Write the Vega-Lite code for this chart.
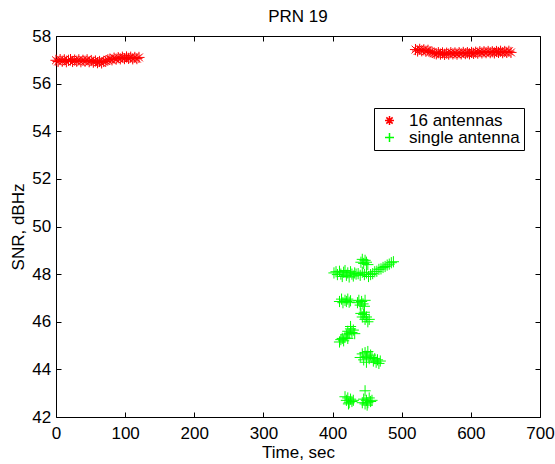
{
  "$schema": "https://vega.github.io/schema/vega-lite/v6.json",
  "width": 484,
  "height": 381,
  "autosize": {"type": "none"},
  "padding": {"left": 56, "top": 36, "right": 15, "bottom": 47},
  "background": "white",
  "title": {"text": "PRN 19", "fontSize": 17, "fontWeight": "normal", "font": "Liberation Sans", "color": "black", "offset": 1},
  "config": {
    "view": {"stroke": "black", "strokeWidth": 1},
    "axis": {"grid": false, "domain": false, "tickColor": "black", "tickSize": -5, "labelFlush": false, "labelFont": "Liberation Sans", "labelFontSize": 17, "labelColor": "black", "titleFont": "Liberation Sans", "titleFontSize": 17, "titleFontWeight": "normal", "titleColor": "black"},
    "legend": {"labelFont": "Liberation Sans", "labelFontSize": 17, "labelColor": "black"}
  },
  "data": {"values": [
    {"t":0,"snr":56.98,"series":"16 antennas"},{"t":3,"snr":56.93,"series":"16 antennas"},{"t":6,"snr":57.01,"series":"16 antennas"},{"t":9,"snr":56.94,"series":"16 antennas"},{"t":12,"snr":57.0,"series":"16 antennas"},{"t":15,"snr":56.92,"series":"16 antennas"},{"t":18,"snr":56.98,"series":"16 antennas"},{"t":21,"snr":57.01,"series":"16 antennas"},{"t":24,"snr":56.93,"series":"16 antennas"},{"t":27,"snr":56.99,"series":"16 antennas"},{"t":30,"snr":56.94,"series":"16 antennas"},{"t":33,"snr":57.0,"series":"16 antennas"},{"t":36,"snr":56.92,"series":"16 antennas"},{"t":39,"snr":56.98,"series":"16 antennas"},{"t":42,"snr":56.94,"series":"16 antennas"},{"t":45,"snr":57.0,"series":"16 antennas"},{"t":48,"snr":56.92,"series":"16 antennas"},{"t":51,"snr":56.97,"series":"16 antennas"},{"t":54,"snr":56.9,"series":"16 antennas"},{"t":57,"snr":56.95,"series":"16 antennas"},{"t":60,"snr":56.88,"series":"16 antennas"},{"t":63,"snr":56.93,"series":"16 antennas"},{"t":66,"snr":56.87,"series":"16 antennas"},{"t":69,"snr":56.93,"series":"16 antennas"},{"t":72,"snr":56.95,"series":"16 antennas"},{"t":75,"snr":57.0,"series":"16 antennas"},{"t":78,"snr":57.03,"series":"16 antennas"},{"t":81,"snr":57.0,"series":"16 antennas"},{"t":84,"snr":57.07,"series":"16 antennas"},{"t":87,"snr":57.03,"series":"16 antennas"},{"t":90,"snr":57.09,"series":"16 antennas"},{"t":93,"snr":57.04,"series":"16 antennas"},{"t":96,"snr":57.11,"series":"16 antennas"},{"t":99,"snr":57.05,"series":"16 antennas"},{"t":102,"snr":57.12,"series":"16 antennas"},{"t":105,"snr":57.06,"series":"16 antennas"},{"t":108,"snr":57.11,"series":"16 antennas"},{"t":111,"snr":57.04,"series":"16 antennas"},{"t":114,"snr":57.1,"series":"16 antennas"},{"t":117,"snr":57.05,"series":"16 antennas"},{"t":120,"snr":57.1,"series":"16 antennas"},
    {"t":520,"snr":57.43,"series":"16 antennas"},{"t":523,"snr":57.37,"series":"16 antennas"},{"t":526,"snr":57.44,"series":"16 antennas"},{"t":529,"snr":57.38,"series":"16 antennas"},{"t":532,"snr":57.42,"series":"16 antennas"},{"t":535,"snr":57.36,"series":"16 antennas"},{"t":538,"snr":57.4,"series":"16 antennas"},{"t":541,"snr":57.34,"series":"16 antennas"},{"t":544,"snr":57.31,"series":"16 antennas"},{"t":547,"snr":57.28,"series":"16 antennas"},{"t":550,"snr":57.25,"series":"16 antennas"},{"t":553,"snr":57.3,"series":"16 antennas"},{"t":556,"snr":57.24,"series":"16 antennas"},{"t":559,"snr":57.29,"series":"16 antennas"},{"t":562,"snr":57.23,"series":"16 antennas"},{"t":565,"snr":57.28,"series":"16 antennas"},{"t":568,"snr":57.24,"series":"16 antennas"},{"t":571,"snr":57.3,"series":"16 antennas"},{"t":574,"snr":57.25,"series":"16 antennas"},{"t":577,"snr":57.29,"series":"16 antennas"},{"t":580,"snr":57.24,"series":"16 antennas"},{"t":583,"snr":57.3,"series":"16 antennas"},{"t":586,"snr":57.25,"series":"16 antennas"},{"t":589,"snr":57.31,"series":"16 antennas"},{"t":592,"snr":57.26,"series":"16 antennas"},{"t":595,"snr":57.3,"series":"16 antennas"},{"t":598,"snr":57.25,"series":"16 antennas"},{"t":601,"snr":57.31,"series":"16 antennas"},{"t":604,"snr":57.27,"series":"16 antennas"},{"t":607,"snr":57.32,"series":"16 antennas"},{"t":610,"snr":57.28,"series":"16 antennas"},{"t":613,"snr":57.34,"series":"16 antennas"},{"t":616,"snr":57.29,"series":"16 antennas"},{"t":619,"snr":57.34,"series":"16 antennas"},{"t":622,"snr":57.3,"series":"16 antennas"},{"t":625,"snr":57.35,"series":"16 antennas"},{"t":628,"snr":57.3,"series":"16 antennas"},{"t":631,"snr":57.34,"series":"16 antennas"},{"t":634,"snr":57.29,"series":"16 antennas"},{"t":637,"snr":57.35,"series":"16 antennas"},{"t":640,"snr":57.31,"series":"16 antennas"},{"t":643,"snr":57.36,"series":"16 antennas"},{"t":646,"snr":57.3,"series":"16 antennas"},{"t":649,"snr":57.35,"series":"16 antennas"},{"t":652,"snr":57.31,"series":"16 antennas"},{"t":655,"snr":57.36,"series":"16 antennas"},{"t":658,"snr":57.31,"series":"16 antennas"},
    {"t":402,"snr":48.05,"series":"single antenna"},{"t":405,"snr":48.1,"series":"single antenna"},{"t":407,"snr":47.98,"series":"single antenna"},{"t":410,"snr":48.12,"series":"single antenna"},{"t":412,"snr":48.0,"series":"single antenna"},{"t":414,"snr":47.9,"series":"single antenna"},{"t":416,"snr":48.08,"series":"single antenna"},{"t":418,"snr":48.15,"series":"single antenna"},{"t":420,"snr":47.95,"series":"single antenna"},{"t":422,"snr":48.05,"series":"single antenna"},{"t":424,"snr":47.88,"series":"single antenna"},{"t":426,"snr":48.1,"series":"single antenna"},{"t":428,"snr":48.0,"series":"single antenna"},{"t":430,"snr":47.92,"series":"single antenna"},{"t":432,"snr":48.05,"series":"single antenna"},{"t":434,"snr":48.0,"series":"single antenna"},
    {"t":437,"snr":48.02,"series":"single antenna"},{"t":440,"snr":47.95,"series":"single antenna"},{"t":443,"snr":48.08,"series":"single antenna"},{"t":446,"snr":47.98,"series":"single antenna"},{"t":449,"snr":48.05,"series":"single antenna"},{"t":452,"snr":47.9,"series":"single antenna"},
    {"t":441,"snr":48.5,"series":"single antenna"},{"t":443,"snr":48.62,"series":"single antenna"},{"t":445,"snr":48.45,"series":"single antenna"},{"t":447,"snr":48.58,"series":"single antenna"},{"t":449,"snr":48.5,"series":"single antenna"},{"t":451,"snr":48.4,"series":"single antenna"},
    {"t":455,"snr":47.98,"series":"single antenna"},{"t":458,"snr":48.02,"series":"single antenna"},{"t":461,"snr":48.1,"series":"single antenna"},{"t":464,"snr":48.12,"series":"single antenna"},{"t":467,"snr":48.2,"series":"single antenna"},{"t":470,"snr":48.22,"series":"single antenna"},{"t":473,"snr":48.28,"series":"single antenna"},{"t":476,"snr":48.32,"series":"single antenna"},{"t":479,"snr":48.38,"series":"single antenna"},{"t":482,"snr":48.42,"series":"single antenna"},{"t":485,"snr":48.48,"series":"single antenna"},{"t":488,"snr":48.52,"series":"single antenna"},
    {"t":410,"snr":46.85,"series":"single antenna"},{"t":413,"snr":46.95,"series":"single antenna"},{"t":415,"snr":46.8,"series":"single antenna"},{"t":418,"snr":46.9,"series":"single antenna"},{"t":420,"snr":46.85,"series":"single antenna"},{"t":422,"snr":46.95,"series":"single antenna"},{"t":424,"snr":46.82,"series":"single antenna"},{"t":426,"snr":46.88,"series":"single antenna"},
    {"t":436,"snr":46.8,"series":"single antenna"},{"t":438,"snr":46.9,"series":"single antenna"},{"t":440,"snr":46.7,"series":"single antenna"},{"t":442,"snr":46.85,"series":"single antenna"},{"t":444,"snr":46.75,"series":"single antenna"},{"t":446,"snr":46.65,"series":"single antenna"},{"t":447,"snr":46.9,"series":"single antenna"},
    {"t":441,"snr":46.35,"series":"single antenna"},{"t":443,"snr":46.2,"series":"single antenna"},{"t":445,"snr":46.3,"series":"single antenna"},{"t":447,"snr":46.1,"series":"single antenna"},{"t":449,"snr":46.2,"series":"single antenna"},{"t":451,"snr":46.0,"series":"single antenna"},{"t":453,"snr":46.1,"series":"single antenna"},{"t":446,"snr":46.4,"series":"single antenna"},
    {"t":410,"snr":45.15,"series":"single antenna"},{"t":412,"snr":45.25,"series":"single antenna"},{"t":414,"snr":45.3,"series":"single antenna"},{"t":416,"snr":45.2,"series":"single antenna"},{"t":418,"snr":45.35,"series":"single antenna"},{"t":420,"snr":45.45,"series":"single antenna"},{"t":422,"snr":45.6,"series":"single antenna"},{"t":424,"snr":45.5,"series":"single antenna"},{"t":426,"snr":45.7,"series":"single antenna"},{"t":428,"snr":45.55,"series":"single antenna"},{"t":430,"snr":45.65,"series":"single antenna"},{"t":432,"snr":45.5,"series":"single antenna"},{"t":426,"snr":45.8,"series":"single antenna"},{"t":422,"snr":45.3,"series":"single antenna"},
    {"t":440,"snr":44.5,"series":"single antenna"},{"t":443,"snr":44.65,"series":"single antenna"},{"t":445,"snr":44.4,"series":"single antenna"},{"t":447,"snr":44.7,"series":"single antenna"},{"t":449,"snr":44.55,"series":"single antenna"},{"t":451,"snr":44.75,"series":"single antenna"},{"t":453,"snr":44.45,"series":"single antenna"},{"t":455,"snr":44.6,"series":"single antenna"},{"t":457,"snr":44.5,"series":"single antenna"},{"t":459,"snr":44.35,"series":"single antenna"},{"t":461,"snr":44.45,"series":"single antenna"},{"t":463,"snr":44.3,"series":"single antenna"},{"t":465,"snr":44.4,"series":"single antenna"},{"t":467,"snr":44.25,"series":"single antenna"},{"t":469,"snr":44.35,"series":"single antenna"},{"t":449,"snr":44.3,"series":"single antenna"},
    {"t":418,"snr":42.85,"series":"single antenna"},{"t":420,"snr":42.7,"series":"single antenna"},{"t":422,"snr":42.8,"series":"single antenna"},{"t":424,"snr":42.6,"series":"single antenna"},{"t":426,"snr":42.75,"series":"single antenna"},{"t":428,"snr":42.65,"series":"single antenna"},{"t":430,"snr":42.7,"series":"single antenna"},{"t":423,"snr":42.55,"series":"single antenna"},
    {"t":443,"snr":42.6,"series":"single antenna"},{"t":445,"snr":42.75,"series":"single antenna"},{"t":447,"snr":42.55,"series":"single antenna"},{"t":449,"snr":42.7,"series":"single antenna"},{"t":451,"snr":42.6,"series":"single antenna"},{"t":453,"snr":42.8,"series":"single antenna"},{"t":455,"snr":42.65,"series":"single antenna"},{"t":457,"snr":42.7,"series":"single antenna"},{"t":447,"snr":43.1,"series":"single antenna"},{"t":450,"snr":42.5,"series":"single antenna"}
  ]},
  "layer": [
    {
      "mark": {"type": "point", "filled": false, "strokeWidth": 1, "size": 125, "opacity": 1},
      "encoding": {
        "x": {"field": "t", "type": "quantitative", "scale": {"domain": [0, 700], "nice": false, "zero": false},
              "axis": {"orient": "bottom", "values": [0,100,200,300,400,500,600,700], "labelPadding": 13.5, "title": "Time, sec", "titlePadding": 3}},
        "y": {"field": "snr", "type": "quantitative", "scale": {"domain": [42, 58], "nice": false, "zero": false},
              "axis": {"orient": "left", "values": [42,44,46,48,50,52,54,56,58], "labelPadding": 10.3, "title": "SNR, dBHz", "titlePadding": 4}},
        "color": {"field": "series", "type": "nominal",
                  "scale": {"domain": ["16 antennas", "single antenna"], "range": ["#ff0000", "#00ff00"]},
                  "legend": {"orient": "none", "legendX": 318, "legendY": 72, "title": null, "strokeColor": "black", "fillColor": "white", "padding": 4, "rowPadding": -5, "symbolSize": 81, "symbolStrokeWidth": 1.5, "symbolOpacity": 1, "symbolOffset": 3, "labelOffset": 11}},
        "shape": {"field": "series", "type": "nominal",
                  "scale": {"domain": ["16 antennas", "single antenna"], "range": ["M-1,0H1M0,-1V1M-0.7,-0.7L0.7,0.7M-0.7,0.7L0.7,-0.7", "M-1,0H1M0,-1V1"]}}
      }
    },
    {
      "mark": {"type": "point", "opacity": 0},
      "encoding": {
        "x": {"field": "t", "type": "quantitative", "axis": {"orient": "top", "values": [0,100,200,300,400,500,600,700], "labels": false, "title": null, "minExtent": 0, "maxExtent": 0}},
        "y": {"field": "snr", "type": "quantitative", "axis": {"orient": "right", "values": [42,44,46,48,50,52,54,56,58], "labels": false, "title": null, "minExtent": 0, "maxExtent": 0}}
      }
    }
  ],
  "resolve": {"axis": {"x": "independent", "y": "independent"}}
}
